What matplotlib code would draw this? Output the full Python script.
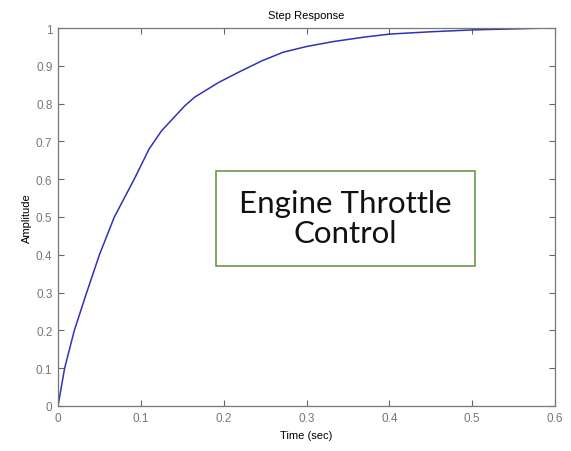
import matplotlib
matplotlib.use('Agg')
from matplotlib import pyplot as plt
from matplotlib.patches import Rectangle

# step response
time_s = [0, 0.008, 0.0197, 0.0346, 0.050, 0.068, 0.092, 0.110,
          0.125, 0.153, 0.165, 0.194, 0.218, 0.246, 0.272, 0.300, 0.332,
          0.370, 0.401, 0.450, 0.501, 0.574, 0.600]
amplitude = [0, 0.10, 0.20, 0.30, 0.40, 0.50, 0.60, 0.68,
             0.728, 0.794, 0.817, 0.856, 0.883, 0.913, 0.936, 0.951, 0.964,
             0.976, 0.984, 0.990, 0.995, 0.999, 1.0]
xticks = [0, 0.1, 0.2, 0.3, 0.4, 0.5, 0.6]
yticks = [0, 0.1, 0.2, 0.3, 0.4, 0.5, 0.6, 0.7, 0.8, 0.9, 1]

plt.rcParams['font.family'] = ['Liberation Sans', 'DejaVu Sans']

fig = plt.figure(figsize=(5.71, 4.52), dpi=100)
ax = fig.add_axes([58/571, 45/452, 497/571, 378/452])
ax.plot(time_s, amplitude, color='#3232b4', linewidth=1.1)
ax.set_xlim(0, 0.6)
ax.set_ylim(0, 1)
ax.set_xticks(xticks)
ax.set_xticklabels(['0', '0.1', '0.2', '0.3', '0.4', '0.5', '0.6'])
ax.set_yticks(yticks)
ax.set_yticklabels(['0', '0.1', '0.2', '0.3', '0.4', '0.5', '0.6', '0.7', '0.8', '0.9', '1'])
ax.tick_params(direction='in', length=4, width=0.8, colors='#666666',
               labelsize=8.5, labelcolor='#777777', top=True, right=True, pad=4)
for s in ax.spines.values():
    s.set_color('#777777')
    s.set_linewidth(0.9)

ax.set_title('Step Response', fontsize=8, pad=7)
ax.set_xlabel('Time (sec)', fontsize=8, labelpad=5)
ax.set_ylabel('Amplitude', fontsize=8, labelpad=3)

# annotation box
fig.patches.append(Rectangle((216/571, (452-267)/452), 259/571, 95/452,
                             transform=fig.transFigure, fill=False,
                             edgecolor='#5e8f3a', linewidth=1.1))
fig.text(345.5/571, (452-219)/452, 'Engine Throttle\nControl', ha='center', va='center',
         fontsize=22.5, family='Lato', color='#111111', linespacing=1.1)

plt.savefig('out.png', dpi=100)
